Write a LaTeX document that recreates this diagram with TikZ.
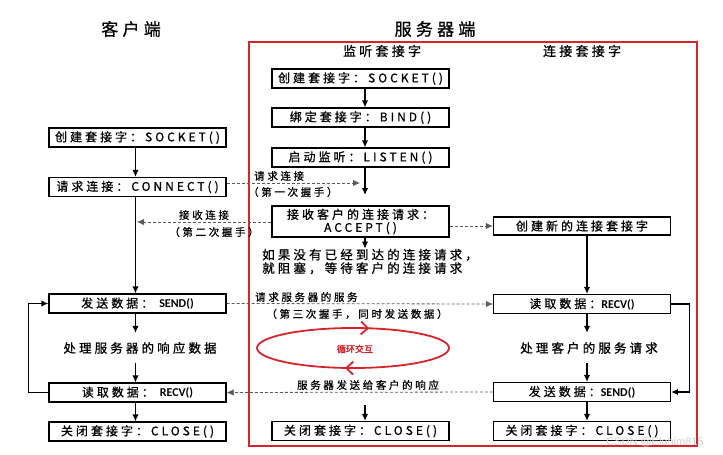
\documentclass[tikz,border=0pt]{standalone}
\usepackage{fontspec}
\usepackage{tikz}
\usetikzlibrary{arrows.meta,decorations.markings}
\newfontfamily\zh[LetterSpace=25,FakeBold=0.8]{Noto Sans CJK SC}
\newfontfamily\zhb[FakeBold=2]{Noto Sans CJK SC}
\newfontfamily\calib{Carlito}
\newfontfamily\wmfont{Liberation Sans}
\definecolor{boxred}{RGB}{214,36,44}
\definecolor{dashgray}{RGB}{90,90,90}

\begin{document}
\begin{tikzpicture}[x=1pt,y=-1pt,>={Latex[length=7pt,width=6.5pt]},
  box/.style={draw,line width=1.4pt,minimum width=177pt,minimum height=19pt,inner sep=0pt,font=\zh\fontsize{12}{13}\selectfont},
  proc/.style={minimum height=30pt,inner sep=0pt,font=\zh\fontsize{12.5}{13.5}\selectfont},
  title/.style={font=\zh\fontsize{17}{18}\selectfont},
  colhead/.style={font=\zh\fontsize{13}{14}\selectfont},
  msg/.style={font=\zh\fontsize{10.5}{12}\selectfont,inner sep=0pt},
  flow/.style={->,line width=1.2pt},
  talk/.style={->,dashgray,line width=0.8pt,dash pattern=on 3pt off 2pt}]
\useasboundingbox (0,0) rectangle (723,455);

% titles and server frame
\node[title] (ctitle) at (131,29) {客户端};
\node[title] (stitle) at (435,29) {服务器端};
\draw[boxred,line width=2.2pt] (249,42) rectangle (697,446);
\node[colhead] (lhead) at (382,51) {监听套接字};
\node[colhead] (nhead) at (582,51) {连接套接字};

% client
\node[box] (csock) at (137.5,137.5) {创建套接字：SOCKET()};
\node[box] (cconn) at (137.5,187) {请求连接：CONNECT()};
\node[box] (csend) at (137.5,303.5) {发送数据：\hspace{6pt}{\calib\bfseries SEND()}\hspace{22pt}};
\node[proc] (cproc) at (140,348) {处理服务器的响应数据};
\node[box] (crecv) at (137.5,392.5) {读取数据：\hspace{6pt}{\calib\bfseries RECV()}\hspace{24pt}};
\node[box] (cclose) at (137.5,431.5) {关闭套接字：CLOSE()};

% listening socket
\node[box] (ssock) at (360.5,78.5) {创建套接字：SOCKET()};
\node[box] (sbind) at (360.5,117.5) {绑定套接字：BIND()};
\node[box] (slisten) at (360.5,157.5) {启动监听：LISTEN()};
\node[box,minimum height=31pt,align=center] (saccept) at (360.5,221.5) {接收客户的连接请求：\\ACCEPT()};
\node[proc,minimum height=0pt,align=left,anchor=west] (swait) at (262,261.5) {如果没有已经到达的连接请求，\\就阻塞，等待客户的连接请求};
\node[box] (sclose) at (360.5,431) {关闭套接字：CLOSE()};

% connected socket
\node[box,minimum height=18pt] (nnew) at (582,226) {创建新的连接套接字};
\node[box] (nrecv) at (582,304) {读取数据：{\calib\bfseries RECV()}\hspace{14pt}};
\node[proc] (nproc) at (589,348) {处理客户的服务请求};
\node[box] (nsend) at (582,392) {发送数据：{\calib\bfseries SEND()}\hspace{12pt}};
\node[box] (nclose) at (582,431) {关闭套接字：CLOSE()};

% free ends
\coordinate (reqend) at (360,183);
\coordinate (lstend) at (365,195);
\coordinate (ackend) at (137,222);
\coordinate (clsstart) at (365,405);

% flow
\draw[flow] ([xshift=-2pt]csock.south) -- ([xshift=-2pt]cconn.north);
\draw[flow] ([xshift=-2pt]cconn.south) -- ([xshift=-2pt]csend.north);
\draw[flow] ([xshift=-2pt]csend.south) -- ([xshift=-2pt]csend.south |- cproc.north);
\draw[flow] ([xshift=-2pt]csend.south |- cproc.south) -- ([xshift=-2pt]crecv.north);
\draw[flow] ([xshift=-2pt]crecv.south) -- ([xshift=-2pt]cclose.north);
\draw[flow] (crecv.west) -- ++(-20,0) |- (csend.west);

\draw[flow] ([xshift=4.5pt]ssock.south) -- ([xshift=4.5pt]sbind.north);
\draw[flow] ([xshift=4.5pt]sbind.south) -- ([xshift=4.5pt]slisten.north);
\draw[flow] ([xshift=4.5pt]slisten.south) -- (lstend);
\draw[flow] ([xshift=4.5pt]saccept.south) -- ([xshift=4.5pt]saccept.south |- swait.north);
\draw[flow] (clsstart) -- (clsstart |- sclose.north);

\draw[flow] ([xshift=5pt]nnew.south) -- ([xshift=5pt]nrecv.north);
\draw[flow] ([xshift=5pt]nrecv.south) -- ([xshift=5pt]nrecv.south |- nproc.north);
\draw[flow] ([xshift=5pt]nrecv.south |- nproc.south) -- ([xshift=5pt]nsend.north);
\draw[flow] ([xshift=5pt]nsend.south) -- ([xshift=5pt]nclose.north);
\draw[flow] (nrecv.east) -- ++(18,0) |- (nsend.east);

% messages
\draw[talk] (cconn.east |- reqend) -- (reqend);
\node[msg,anchor=west] (reqtxt) at (254,176) {请求连接};
\node[msg,anchor=west] (reqsub) at (248,192) {（第一次握手）};
\draw[talk] (saccept.west |- ackend) -- (ackend);
\node[msg] (acktxt) at (204,215) {接收连接};
\node[msg] (acksub) at (214,232) {（第二次握手）};
\draw[talk] (saccept.east |- nnew) -- (nnew.west);
\draw[talk] (csend.east) -- (nrecv.west);
\node[msg,anchor=west] (svctxt) at (255,297) {请求服务器的服务};
\node[msg] (svcsub) at (357,314) {（第三次握手，同时发送数据）};
\draw[talk] (nsend.west) -- (crecv.east);
\node[msg] (rsptxt) at (368,385) {服务器发送给客户的响应};

% loop
\draw[boxred,line width=1.8pt,postaction={decorate},
  decoration={markings,
    mark=at position 0.27 with {\arrow{Straight Barb[length=7pt,width=13pt]}},
    mark=at position 0.79 with {\arrow{Straight Barb[length=7pt,width=13pt]}}}]
  (353,348) ellipse [x radius=96, y radius=20];
\node[font=\zhb\fontsize{9}{10}\selectfont,text=boxred] (looptxt) at (355,349) {循环交互};

\node[text=gray!35,font=\wmfont\fontsize{11}{12}\selectfont] (wm) at (655,442) {CSDN @Elohim815};
\end{tikzpicture}
\end{document}
